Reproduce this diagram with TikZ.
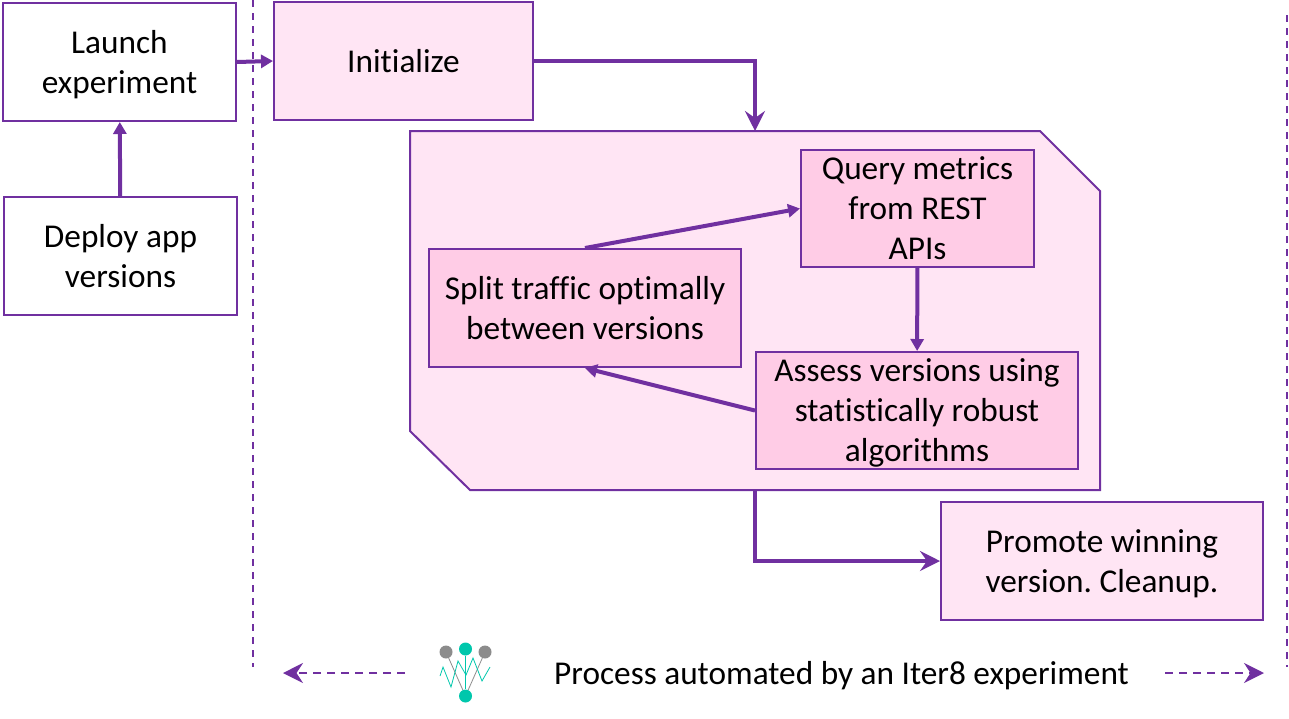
\documentclass[tikz,border=0pt]{standalone}
\usepackage{fontspec}
\setmainfont{Carlito}[Ligatures=CommonOff]
\usetikzlibrary{arrows.meta}
\definecolor{iterpurple}{HTML}{7030A0}
\definecolor{iterpink}{HTML}{FFE5F4}
\definecolor{iterrose}{HTML}{FFCCE6}
\definecolor{iterteal}{HTML}{00C7AC}
\definecolor{itergray}{HTML}{8C8C8C}
\newcommand{\lowline}{\rule{0pt}{28.5pt}}
\frenchspacing
\tikzset{
  stepbox/.style={draw=iterpurple,line width=2pt,inner sep=0pt,align=center,font=\fontsize{33.3}{40}\selectfont},
  flow/.style={draw=iterpurple,line width=4.5pt,-{Stealth[length=20pt,width=20pt,inset=7pt]}},
  thinflow/.style={draw=iterpurple,line width=4pt,-{Triangle[length=12pt,width=13pt]}},
  guide/.style={draw=iterpurple,line width=2pt,dash pattern=on 7pt off 6pt},
  reach/.style={draw=iterpurple,line width=2pt,dash pattern=on 8pt off 6pt,-{Stealth[length=20pt,width=20pt]}}
}
\begin{document}
\begin{tikzpicture}[x=1pt,y=-1pt]
  \useasboundingbox (0,0) rectangle (1289,718);

  % white boxes left of the line
  \node[stepbox,minimum width=233pt,minimum height=118pt] at (119.5,62) (launch) {\lowline Launch\\experiment};
  \node[stepbox,minimum width=233pt,minimum height=118pt] at (120.5,256) (deploy) {Deploy app\\versions};

  % iter8 part
  \node[stepbox,fill=iterpink,minimum width=259pt,minimum height=118pt] at (403.5,61) (init) {Initialize};
  \draw[draw=iterpurple,line width=2pt,fill=iterpink] (410,131) -- (1040,131) -- (1100,191) -- (1100,490) -- (470,490) -- (410,431) -- cycle;
  \coordinate (looptop) at (755,131);
  \coordinate (loopbottom) at (755,490);
  \node[stepbox,fill=iterrose,minimum width=233pt,minimum height=117pt] at (917.5,208.5) (query) {Query metrics\\from REST\\APIs};
  \node[stepbox,fill=iterrose,minimum width=312pt,minimum height=118pt] at (585,308) (split) {Split traffic optimally\\between versions};
  \node[stepbox,fill=iterrose,minimum width=322pt,minimum height=117pt] at (917,410.5) (assess) {\lowline Assess versions using\\statistically robust\\algorithms};
  \node[stepbox,fill=iterpink,minimum width=322pt,minimum height=118pt] at (1102,561) (promote) {\lowline Promote winning\\version. Cleanup.};

  % draw edges
  \draw[thinflow] (deploy) -- (launch);
  \draw[thinflow] (launch.east) -- (init.west);
  \draw[flow] (init.east) -| (looptop);
  \draw[thinflow] (split.north) -- (query.west);
  \draw[thinflow] (query) -- (assess);
  \draw[thinflow] (assess.west) -- (split.south);
  \draw[flow] (loopbottom) |- (promote.west);

  % dashed limits of the experiment
  \coordinate (lefttop) at (253,0);
  \coordinate (leftend) at (253,667);
  \coordinate (righttop) at (1287,15);
  \coordinate (rightend) at (1287,667);
  \draw[guide] (lefttop) -- (leftend);
  \draw[guide] (righttop) -- (rightend);

  \node[font=\fontsize{33.3}{40}\selectfont,inner sep=0pt] at (841.5,676) (caption) {Process automated by an Iter8 experiment};
  \coordinate (reachleft) at (283,673);
  \coordinate (startleft) at (405,673);
  \coordinate (reachright) at (1264,673);
  \coordinate (startright) at (1165,673);
  \draw[reach] (startleft) -- (reachleft);
  \draw[reach] (startright) -- (reachright);

  % logo
  \node[circle,fill=itergray,inner sep=0pt,minimum size=13pt] at (446,652) (grayl) {};
  \node[circle,fill=itergray,inner sep=0pt,minimum size=13pt] at (485,652) (grayr) {};
  \node[circle,fill=iterteal,inner sep=0pt,minimum size=13pt] at (465.5,649) (tealtop) {};
  \node[circle,fill=iterteal,inner sep=0pt,minimum size=13pt] at (465.5,696) (tealbot) {};
  \draw[itergray,line width=.8pt] (grayl) -- (tealbot);
  \draw[itergray,line width=.8pt] (grayr) -- (tealbot);
  \draw[iterteal,line width=.8pt] (tealtop) -- (tealbot);
  \draw[iterteal,line width=.8pt] (440,676) -- (443,667) -- (451,687) -- (458,661) -- (466,675) -- (473,658) -- (482,681) -- (490,667);
\end{tikzpicture}
\end{document}
